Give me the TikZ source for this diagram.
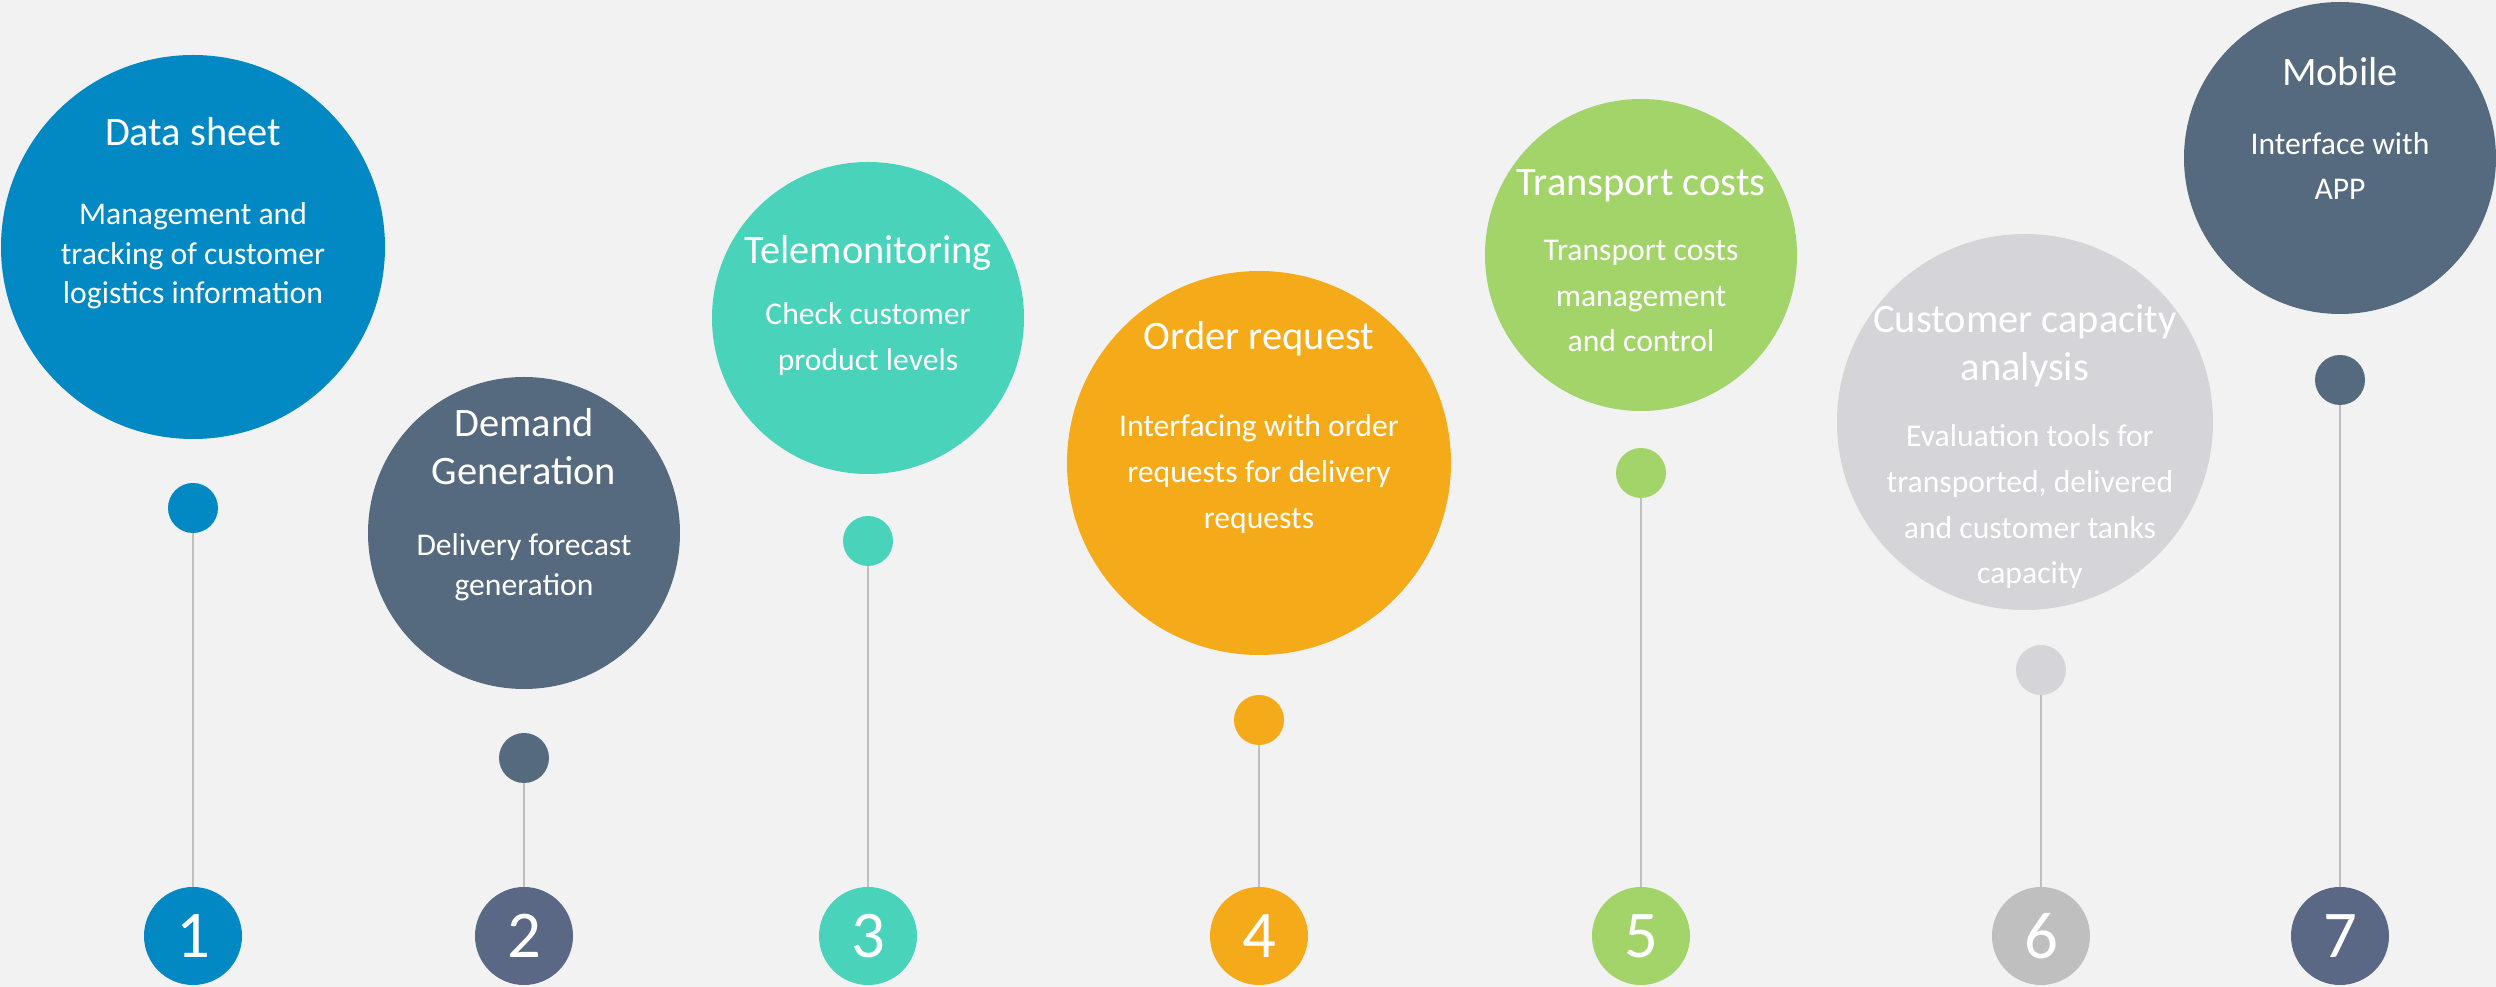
\documentclass[tikz,border=0pt]{standalone}
\usepackage{fontspec}
\setmainfont{Carlito}
\usetikzlibrary{positioning}
\definecolor{bgGray}{HTML}{F2F2F2}
\definecolor{stemGray}{HTML}{BFBFBF}
\definecolor{dsBlue}{HTML}{0288C2}
\definecolor{slate}{HTML}{566A7F}
\definecolor{slateNum}{HTML}{5A6886}
\definecolor{teal}{HTML}{48D3BA}
\definecolor{amber}{HTML}{F5AB19}
\definecolor{leaf}{HTML}{A2D46A}
\definecolor{mist}{HTML}{D5D4D9}
\definecolor{numGray}{HTML}{BFBFBF}

\begin{document}
\begin{tikzpicture}[
    x=0.1mm, y=-0.1mm,
    bubble/.style={
        circle,
        draw=none,
        inner sep=0pt,
        outer sep=0pt
    },
    dot/.style={
        circle,
        draw=none,
        inner sep=0pt,
        outer sep=0pt,
        minimum size=5mm
    },
    numbox/.style={
        circle,
        draw=none,
        inner sep=0pt,
        outer sep=0pt,
        minimum size=9.8mm,
        text=white,
        font=\fontsize{19}{22}\selectfont
    },
    ttl/.style={
        text=white,
        align=center,
        inner sep=0pt,
        font=\fontsize{11.5}{13.6}\selectfont
    },
    txt/.style={
        text=white,
        align=center,
        inner sep=0pt,
        font=\fontsize{9}{11.3}\selectfont
    },
    txtloose/.style={
        txt,
        font=\fontsize{9}{13}\selectfont
    },
    stem/.style={
        draw=stemGray,
        line width=0.5pt
    }
]

% Background
\fill[bgGray] (0,0) rectangle (2496,987);

% -------------------- Bubbles -------------------------
\node[bubble, fill=dsBlue, minimum size=38.4mm] (c1) at (193,247) {};
\node[bubble, fill=slate,  minimum size=31.2mm] (c2) at (524,533) {};
\node[bubble, fill=teal,   minimum size=31.2mm] (c3) at (868,318) {};
\node[bubble, fill=amber,  minimum size=38.4mm] (c4) at (1259,463) {};
\node[bubble, fill=leaf,   minimum size=31.2mm] (c5) at (1641,255) {};
\node[bubble, fill=mist,   minimum size=37.6mm] (c6) at (2025,422) {};
\node[bubble, fill=slate,  minimum size=31.2mm] (c7) at (2340,158) {};

% -------------------- Bubble texts --------------------
\node[ttl] (t1) at (193,132) {Data sheet};
\node[txt] (b1) at (193,256) {Management and\\tracking of customer\\logistics information};

\node[ttl] (t2) at (524,447) {Demand\\Generation};
\node[txt] (b2) at (524,567) {Delivery forecast\\generation};

\node[ttl] (t3) at (868,253) {Telemonitoring};
\node[txtloose] (b3) at (868,339) {Check customer\\product levels};

\node[ttl] (t4) at (1259,339) {Order request};
\node[txtloose] (b4) at (1259,474) {Interfacing with order\\requests for delivery\\requests};

\node[ttl] (t5) at (1641,186) {Transport costs};
\node[txtloose] (b5) at (1641,296) {Transport costs\\management\\and control};

\node[ttl] (t6) at (2025,346) {Customer capacity\\analysis};
\node[txtloose] (b6) at (2030,507) {Evaluation tools for\\transported, delivered\\and customer tanks\\capacity};

\node[ttl] (t7) at (2340,72) {Mobile};
\node[txtloose] (b7) at (2340,166) {Interface with\\APP};

% -------------------- Dots ----------------------------
\node[dot, fill=dsBlue] (d1) at (193,508) {};
\node[dot, fill=slate]  (d2) at (524,758) {};
\node[dot, fill=teal]   (d3) at (868,541) {};
\node[dot, fill=amber]  (d4) at (1259,720) {};
\node[dot, fill=leaf]   (d5) at (1641,473) {};
\node[dot, fill=mist]   (d6) at (2041,670) {};
\node[dot, fill=slate]  (d7) at (2340,380) {};

% -------------------- Numbers -------------------------
\node[numbox, fill=dsBlue]   (n1) at (193,936) {1};
\node[numbox, fill=slateNum] (n2) at (524,936) {2};
\node[numbox, fill=teal]     (n3) at (868,936) {3};
\node[numbox, fill=amber]    (n4) at (1259,936) {4};
\node[numbox, fill=leaf]     (n5) at (1641,936) {5};
\node[numbox, fill=numGray]  (n6) at (2041,936) {6};
\node[numbox, fill=slateNum] (n7) at (2340,936) {7};

% -------------------- Stems ---------------------------
\draw[stem] (d1.south) -- (n1.north);
\draw[stem] (d2.south) -- (n2.north);
\draw[stem] (d3.south) -- (n3.north);
\draw[stem] (d4.south) -- (n4.north);
\draw[stem] (d5.south) -- (n5.north);
\draw[stem] (d6.south) -- (n6.north);
\draw[stem] (d7.south) -- (n7.north);

\end{tikzpicture}
\end{document}
